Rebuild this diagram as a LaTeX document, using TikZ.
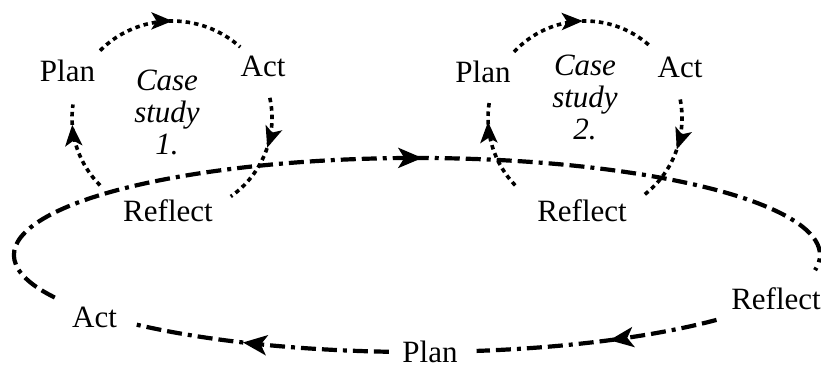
\documentclass[tikz,border=0pt]{standalone}
\usepackage{fontspec}
\setmainfont{Liberation Serif}
\usetikzlibrary{arrows.meta,decorations.markings,calc}

\tikzset{
  lbl/.style={font=\fontsize{31}{32}\selectfont, inner sep=0pt, anchor=base},
  casetxt/.style={font=\fontsize{31}{32}\selectfont\itshape, align=center, inner sep=0pt, anchor=base},
  loopline/.style={line width=4.2pt, dash pattern=on 15pt off 6pt on 15pt off 6pt on 4pt off 6pt},
  cycline/.style={line width=3.6pt, dash pattern=on 4.5pt off 4pt},
  tipat/.style={postaction={decorate, decoration={markings,
      mark=at position #1 with {\arrow{Stealth[length=21pt,width=17pt,inset=5pt]}}}}},
  bigtipat/.style={postaction={decorate, decoration={markings,
      mark=at position #1 with {\arrow{Stealth[length=24pt,width=20pt,inset=6pt]}}}}},
}

\begin{document}
\begin{tikzpicture}[x=1pt,y=1pt]
\useasboundingbox (0,0) rectangle (821,369);

% labels of the two case-study cycles (base = last line for the stacked ones)
\node[lbl] (plan1) at (67.5,287) {Plan};
\node[lbl] (act1) at (263,292) {Act};
\node[lbl] (refl1) at (168,147) {Reflect};
\node[casetxt] (case1) at (167,214) {Case\\study\\1.};

\node[lbl] (plan2) at (483,286) {Plan};
\node[lbl] (act2) at (680,291) {Act};
\node[lbl] (refl2) at (582,147) {Reflect};
\node[casetxt] (case2) at (585,229) {Case\\study\\2.};

% labels of the overall cycle
\node[lbl] (refl3) at (776,59) {Reflect};
\node[lbl] (plan3) at (430,6) {Plan};
\node[lbl] (act3) at (94.5,41) {Act};

% centres of the three loops
\coordinate (c1) at (172,251);
\coordinate (c2) at (585,251);
\coordinate (O) at (417,114);

% case study 1: Plan -> Act -> Reflect -> Plan
\coordinate (p1out) at ($(c1)+(136:100 and 97)$);
\coordinate (a1out) at ($(c1)+(12:100 and 97)$);
\coordinate (r1out) at ($(c1)+(224:100 and 97)$);
\draw[cycline, tipat=0.52] (p1out) arc[start angle=136, end angle=47, x radius=100, y radius=97];
\draw[cycline, tipat=0.45] (a1out) arc[start angle=12, end angle=-54, x radius=100, y radius=97];
\draw[cycline, tipat=0.77] (r1out) arc[start angle=224, end angle=172, x radius=100, y radius=97];

% case study 2: Plan -> Act -> Reflect -> Plan
\coordinate (p2out) at ($(c2)+(137:97 and 97)$);
\coordinate (a2out) at ($(c2)+(11:97 and 97)$);
\coordinate (r2out) at ($(c2)+(224:97 and 97)$);
\draw[cycline, tipat=0.52] (p2out) arc[start angle=137, end angle=49, x radius=97, y radius=97];
\draw[cycline, tipat=0.46] (a2out) arc[start angle=11, end angle=-54, x radius=97, y radius=97];
\draw[cycline, tipat=0.76] (r2out) arc[start angle=224, end angle=169, x radius=97, y radius=97];

% overall cycle: Act -> Reflect -> Plan -> Act
\coordinate (a3out) at ($(O)+(206:403 and 97)$);
\coordinate (r3out) at ($(O)+(-42:403 and 97)$);
\coordinate (p3out) at ($(O)+(-94:403 and 97)$);
\draw[loopline, bigtipat=0.53] (a3out) arc[start angle=206, end angle=-9, x radius=403, y radius=97];
\draw[loopline, bigtipat=0.45] (r3out) arc[start angle=-42, end angle=-81.5, x radius=403, y radius=97];
\draw[loopline, bigtipat=0.57] (p3out) arc[start angle=-94, end angle=-134.6, x radius=403, y radius=97];
\end{tikzpicture}
\end{document}
